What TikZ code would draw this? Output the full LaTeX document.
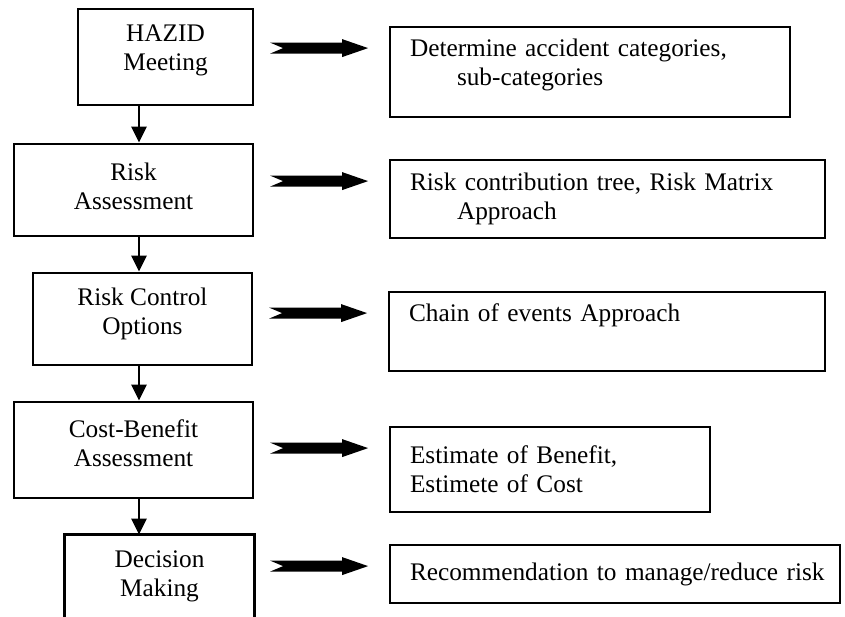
\documentclass[tikz,border=0pt]{standalone}
\usepackage{fontspec}
\setmainfont{Liberation Serif}
\usetikzlibrary{arrows.meta}
\tikzset{
	fatarrow/.pic={
		\fill (0,-5.5) -- (72,-5.5) -- (72,-9) -- (98,0) -- (72,9) -- (72,5.5) -- (0,5.5) -- (13,0) -- cycle;
	}
}
\begin{document}
\begin{tikzpicture}[x=1pt,y=-1pt,font=\fontsize{25.3}{29}\selectfont]
	\useasboundingbox (0,0) rectangle (845,617);
	\coordinate (spine) at (139,0);
	% steps
	\begin{scope}[every node/.style={draw, line width=2.8pt, inner sep=0pt}]
		\node[minimum width=175pt, minimum height=96pt] (hazid) at (165.5,57) {};
		\node[minimum width=239pt, minimum height=92pt] (ra) at (133.5,190) {};
		\node[minimum width=219pt, minimum height=92pt] (rco) at (142.5,319) {};
		\node[minimum width=239pt, minimum height=96pt] (cb) at (133.5,450) {};
		\node[draw=none, minimum width=187pt, minimum height=81pt] (dm) at (159.5,576.5) {};
	\end{scope}
	\draw[line width=2.8pt] (dm.south west) -- (dm.north west) -- (dm.north east) -- (dm.south east);
	\begin{scope}[every node/.style={align=center, inner sep=0pt}]
		\node (hazidtxt) at ([yshift=7pt]hazid.center) {HAZID\\Meeting};
		\node (ratxt) at ([yshift=4pt]ra.center) {Risk\\Assessment};
		\node (rcotxt) at ([yshift=5pt]rco.center) {Risk Control\\Options};
		\node (cbtxt) at ([yshift=7pt]cb.center) {Cost-Benefit\\Assessment};
		\node (dmtxt) at (dm.center) {Decision\\Making};
	\end{scope}
	% results
	\begin{scope}[every node/.style={draw, line width=1.8pt, align=left, inner xsep=20pt, inner ysep=0pt}]
		\node[text width=360pt, minimum height=90pt] (det) at (590,72) {Determine accident categories,\\\hspace*{47pt}sub-categories\\[-10pt]\mbox{}};
		\node[text width=395pt, minimum height=78pt] (rct) at (607.5,199) {Risk contribution tree, Risk Matrix\\\hspace*{47pt}Approach};
		\node[text width=396pt, minimum height=79pt] (coe) at (607,331.5) {Chain of events Approach\\\strut};
		\node[text width=280pt, minimum height=85pt] (eob) at (550,469.5) {Estimate of Benefit,\\Estimete of Cost};
		\node[text width=410pt, minimum height=58pt] (rec) at (615,574) {\mbox{Recommendation to manage/reduce risk}};
	\end{scope}
	\begin{scope}[every edge/.style={draw, line width=2.8pt, -{Triangle[length=16pt,width=15pt]}}]
		\path (hazid.south -| spine) edge (ra.north -| spine);
		\path (ra.south -| spine) edge (rco.north -| spine);
		\path (rco.south -| spine) edge (cb.north -| spine);
		\path (cb.south -| spine) edge (dm.north -| spine);
	\end{scope}
	\foreach \r in {det,rct,coe,eob,rec}
		\path ([xshift=-119pt,yshift=-22pt]\r.north west) pic {fatarrow};
\end{tikzpicture}
\end{document}
